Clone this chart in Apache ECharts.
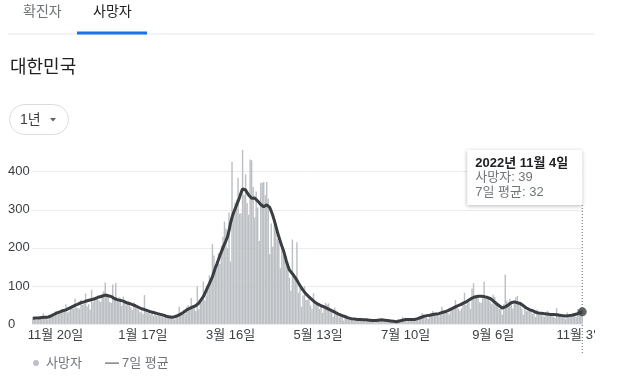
<!DOCTYPE html>
<html><head><meta charset="utf-8">
<script src="https://cdn.jsdelivr.net/npm/echarts@6/dist/echarts.min.js"></script>
<style>html,body{margin:0;padding:0;background:#fff;overflow:hidden}#c{width:595px;height:387px}</style>
</head><body><div id="c"></div>
<script>
// ---- data ----
const tickLabels = ['11월 20일', '1월 17일', '3월 16일', '5월 13일', '7월 10일', '9월 6일', '11월 3일'];
const yTicks = [0, 100, 200, 300, 400];

// daily deaths, by month (2021-11-05 .. 2022-11-04)
const deaths2111 = [14,17,12,10,19,21,15,28,19,17,12,23,22,29,26,33,24,30,34,39,32,38,52,30,33,44];
const deaths2112 = [48,40,67,43,43,40,64,50,53,80,46,52,38,90,57,63,70,75,62,58,80,86,109,79,70,58,56,104,66,108,64];
const deaths2201 = [70,68,48,72,58,49,61,50,44,37,57,48,42,38,31,33,26,76,33,30,28,25,28,22,33,22,23,27,24,19,16];
const deaths2202 = [19,18,21,23,15,17,12,24,21,45,27,32,37,26,44,49,36,68,45,43,34,99,39,58,70,112,62,75];
const deaths2203 = [96,128,112,210,180,144,160,186,158,206,229,269,251,200,293,164,426,301,319,327,384,290,291,457,339,393,318,287,432,430,360];
const deaths2204 = [280,348,306,218,371,371,373,338,373,329,184,264,203,264,253,223,218,147,198,181,170,153,148,122,88,222,131,124,215,82];
const deaths2205 = [94,45,75,99,63,63,77,49,40,81,55,56,49,39,48,29,47,56,51,54,32,31,19,43,28,29,17,22,20,9,24];
const deaths2206 = [19,15,13,13,10,8,16,13,11,13,12,11,9,13,11,9,10,8,10,4,12,14,10,10,11,6,8,9,8,7];
const deaths2207 = [9,6,7,3,13,10,13,19,11,9,7,15,12,13,12,13,10,10,18,16,29,25,22,17,14,23,27,34,24,29,28];
const deaths2208 = [20,24,45,29,33,34,30,25,37,43,47,63,49,40,34,41,59,82,50,60,57,40,93,107,76,69,76,57,56,74,111];
const deaths2209 = [71,75,70,59,52,77,71,60,55,40,42,25,52,130,62,57,66,59,41,62,70,74,57,53,41,24,43,34,36,34];
const deaths2210 = [36,26,28,18,38,31,27,27,21,19,24,35,23,26,26,19,16,42,28,22,21,21,17,13,30,23,20,25,26,24,18];
const deaths2211 = [39,35,30,39];

// 7-day average, by month
const avg2111 = [15,15,16,16,16,17,17,17,18,18,18,19,21,23,25,27,29,31,32,34,35,36,37,39,41,43];
const avg2112 = [45,47,49,51,52,54,56,57,58,60,61,62,63,64,65,67,68,70,71,72,73,74,76,76,74,73,72,70,67,65,64];
const avg2201 = [63,62,61,60,58,56,55,54,52,51,50,48,46,44,42,40,39,38,37,35,34,32,31,30,29,28,27,26,25,24,22];
const avg2202 = [21,20,19,18,18,18,19,20,22,24,26,28,31,34,37,39,41,43,45,47,48,50,55,61,66,72,80,89];
const avg2203 = [98,106,115,124,136,148,158,169,180,190,200,210,219,229,245,265,280,292,302,312,322,333,345,355,360,352,345,339,335,330,333];
const avg2204 = [331,327,323,318,314,310,308,309,313,317,306,296,285,272,258,243,229,217,205,194,180,165,153,142,137,132,128,121,115,108];
const avg2205 = [101,95,89,84,79,75,71,67,64,61,57,54,52,50,48,47,45,43,41,39,37,35,33,31,29,27,25,24,22,21,19];
const avg2206 = [18,16,15,14,14,13,13,12,12,12,12,11,11,11,10,10,10,9,9,9,10,10,11,11,10,10,9,9,8,8];
const avg2207 = [7,7,6,6,7,8,9,10,11,12,12,12,12,12,12,12,13,14,15,17,18,20,21,22,22,23,24,25,25,26,27];
const avg2208 = [27,28,30,31,32,34,35,37,39,41,43,45,47,49,50,52,54,56,58,61,63,65,68,70,71,72,73,72,73,73,72];
const avg2209 = [71,70,68,67,64,61,57,54,51,48,45,42,41,45,48,50,53,56,59,58,57,56,55,54,51,48,45,42,40,38];
const avg2210 = [37,35,33,31,30,29,28,28,27,27,26,26,26,25,25,25,24,24,24,23,23,22,22,21,21,22,22,23,24,25,26];
const avg2211 = [27,29,31,32];

const deaths = [].concat(deaths2111, deaths2112, deaths2201, deaths2202, deaths2203, deaths2204,
  deaths2205, deaths2206, deaths2207, deaths2208, deaths2209, deaths2210, deaths2211);
const avg7 = [].concat(avg2111, avg2112, avg2201, avg2202, avg2203, avg2204,
  avg2205, avg2206, avg2207, avg2208, avg2209, avg2210, avg2211);

// categories: one per day starting 2021-11-05
const categories = [];
const fullDates = [];
const start = Date.UTC(2021, 10, 5);
for (let i = 0; i < deaths.length; i++) {
  const d = new Date(start + i * 86400000);
  const m = d.getUTCMonth() + 1, day = d.getUTCDate();
  categories.push(m + '월 ' + day + '일');
  fullDates.push(d.getUTCFullYear() + '년 ' + m + '월 ' + day + '일');
}
const last = deaths.length - 1;

// ---- chart ----
const FONT = "'Liberation Sans','Noto Sans CJK KR',sans-serif";
const chart = echarts.init(document.getElementById('c'), null, {renderer: 'canvas'});
chart.setOption({
  animation: false,
  textStyle: {fontFamily: FONT},
  grid: {left: 32, right: 12, top: 171.7, bottom: 63, containLabel: false, outerBoundsMode: 'none'},
  xAxis: {
    type: 'category', data: categories, boundaryGap: true,
    axisLine: {show: false}, axisTick: {show: false},
    axisLabel: {interval: (i, v) => tickLabels.includes(v), color: '#3c4043', fontSize: 13, margin: 5, fontFamily: FONT, hideOverlap: false}
  },
  yAxis: {
    type: 'value', min: yTicks[0], max: yTicks[yTicks.length - 1], interval: 100,
    axisLine: {show: false}, axisTick: {show: false},
    axisLabel: {align: 'left', margin: 24, color: '#3c4043', fontSize: 13, fontFamily: FONT},
    splitLine: {lineStyle: {color: '#ececec', width: 1}}
  },
  series: [
    {name: '사망자', type: 'bar', data: deaths, itemStyle: {color: '#bcc0c4'}, barCategoryGap: '4%', clip: false, silent: true},
    {name: '7일 평균', type: 'line', data: avg7, showSymbol: false, clip: false, silent: true,
      lineStyle: {color: '#3a3d41', width: 3}, z: 3},
    {type: 'scatter', data: [[categories[last], avg7[last]]], symbolSize: 9, itemStyle: {color: '#3a3d41'}, z: 4, silent: true}
  ]
});

const p = chart.convertToPixel({seriesIndex: 1}, [last, avg7[last]]);
const base = chart.convertToPixel({seriesIndex: 1}, [last, 0]);
const px = p[0];
const boxW = 115, boxTop = 150, boxH = 55;
const bx = px - boxW;

chart.setOption({
  graphic: [
    // header tabs
    {type: 'text', x: 23, y: 12, style: {text: '확진자', font: '14px ' + FONT, fill: '#70757a', verticalAlign: 'middle'}},
    {type: 'text', x: 93, y: 12, style: {text: '사망자', font: '14px ' + FONT, fill: '#202124', verticalAlign: 'middle'}},
    {type: 'rect', shape: {x: 8, y: 33.5, width: 587, height: 1}, style: {fill: '#e8eaed'}},
    {type: 'rect', shape: {x: 77, y: 31.5, width: 70, height: 3}, style: {fill: '#1a73e8'}},
    // title
    {type: 'text', x: 10, y: 68, style: {text: '대한민국', font: '18px ' + FONT, fill: '#202124', verticalAlign: 'middle'}},
    // range pill
    {type: 'rect', shape: {x: 9.5, y: 104.5, width: 59, height: 30, r: 15}, style: {fill: '#fff', stroke: '#dadce0', lineWidth: 1}},
    {type: 'text', x: 20, y: 120, style: {text: '1년', font: '14px ' + FONT, fill: '#3c4043', verticalAlign: 'middle'}},
    {type: 'polygon', shape: {points: [[50, 118], [56, 118], [53, 121.5]]}, style: {fill: '#5f6368'}},
    // hover guide
    {type: 'line', shape: {x1: px, y1: boxTop + boxH, x2: px, y2: base[1] + 31}, style: {stroke: '#5f6368', lineWidth: 1, lineDash: [1, 2]}, z: 1},
    // tooltip
    {type: 'rect', shape: {x: bx, y: boxTop, width: boxW, height: boxH}, style: {fill: '#fff', shadowBlur: 4, shadowOffsetY: 1, shadowColor: 'rgba(0,0,0,0.28)'}, z: 100},
    {type: 'text', x: bx + 8, y: 163, z: 101, style: {text: fullDates[last], font: 'bold 13px ' + FONT, fill: '#202124', verticalAlign: 'middle'}},
    {type: 'text', x: bx + 8, y: 177.5, z: 101, style: {text: '사망자: ' + deaths[last], font: '13px ' + FONT, fill: '#70757a', verticalAlign: 'middle'}},
    {type: 'text', x: bx + 8, y: 192, z: 101, style: {text: '7일 평균: ' + avg7[last], font: '13px ' + FONT, fill: '#70757a', verticalAlign: 'middle'}},
    // legend
    {type: 'circle', shape: {cx: 36, cy: 363, r: 3}, style: {fill: '#bdc1c6'}},
    {type: 'text', x: 46, y: 363, style: {text: '사망자', font: '13px ' + FONT, fill: '#70757a', verticalAlign: 'middle'}},
    {type: 'rect', shape: {x: 105, y: 362.5, width: 14, height: 1.2}, style: {fill: '#5f6368'}},
    {type: 'text', x: 122, y: 363, style: {text: '7일 평균', font: '13px ' + FONT, fill: '#70757a', verticalAlign: 'middle'}}
  ]
});
</script>
</body></html>
